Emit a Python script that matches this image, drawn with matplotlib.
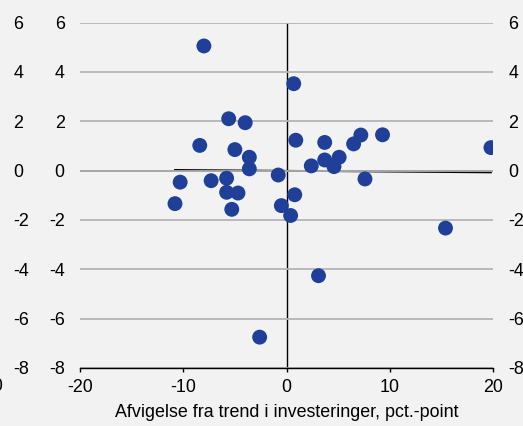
import numpy as np
import matplotlib.pyplot as plt

plt.rcParams['font.family'] = ['Liberation Sans', 'DejaVu Sans']
plt.rcParams['axes.unicode_minus'] = False

# deviation from trend in investment (x) vs. other variable (y)
x = [-8.0, 0.7, -5.6, -4.0, -8.4, -5.0, -3.6, -3.6, -0.8, -10.3, -7.3,
     -5.8, -5.8, -4.7, -10.8, -5.3, -0.5, 0.4, 0.8, 0.9, 3.7, 2.4,
     3.7, 4.6, 5.1, 6.5, 7.2, 9.3, 19.8, 7.6, 15.4, 3.1, -2.6]
y = [5.05, 3.52, 2.10, 1.94, 1.02, 0.85, 0.54, 0.07, -0.18, -0.47, -0.41,
     -0.31, -0.88, -0.91, -1.34, -1.57, -1.42, -1.82, -0.98, 1.23, 1.14, 0.19,
     0.43, 0.16, 0.54, 1.08, 1.44, 1.45, 0.93, -0.34, -2.33, -4.26, -6.75]

xticks = [-20, -10, 0, 10, 20]
yticks = [-8, -6, -4, -2, 0, 2, 4, 6]
xlabel = "Afvigelse fra trend i investeringer, pct.-point"

bg = '#f2f2f2'
blue = '#1f3f99'
fs = 12.9

fig = plt.figure(figsize=(5.23, 4.26), dpi=100, facecolor=bg)
W, H = 523, 426
bottom = (H - 368) / H
height = (368 - 22.5) / H

# neighbouring panel (mostly off the left edge)
ax0 = fig.add_axes([(-7 - 400) / W, bottom, 400 / W, height], facecolor=bg)
ax0.set_xlim(-20, 20)
ax0.set_ylim(-8, 6)
ax0.set_xticks([20])
ax0.set_yticks(yticks)
for s in ax0.spines.values():
    s.set_visible(False)
ax0.tick_params(axis='y', left=False, labelleft=False, right=False,
                labelright=True, pad=11, labelsize=fs)
ax0.tick_params(axis='x', length=0, pad=7, labelsize=fs)

ax = fig.add_axes([80 / W, bottom, (493 - 80) / W, height], facecolor=bg)
ax.set_xlim(-20, 20)
ax.set_ylim(-8, 6)
ax.set_xticks(xticks)
ax.set_yticks(yticks)
ax.grid(axis='y', color='#b4b4b4', linewidth=1.3, zorder=0)
ax.axhline(0, color='black', linewidth=1.1, zorder=1)
ax.axvline(0, color='black', linewidth=1.0, zorder=1)

# trend line through the points
k, m = np.polyfit(x, y, 1)
xl = np.array([min(x), max(x)])
ax.plot(xl, k * xl + m, color='black', linewidth=1.3, zorder=1)

ax.scatter(x, y, s=115, color=blue, edgecolors='none', zorder=3)

for side in ['left', 'right', 'top']:
    ax.spines[side].set_visible(False)
ax.spines['bottom'].set_linewidth(1.0)
ax.tick_params(axis='y', length=0, labelleft=True, labelright=True,
               pad=11, labelsize=fs)
ax.tick_params(axis='x', direction='out', length=3, width=1.0, pad=5,
               labelsize=fs)
ax.set_xlabel(xlabel, fontsize=fs, labelpad=6)

fig.savefig('out.png', dpi=100, facecolor=bg)
